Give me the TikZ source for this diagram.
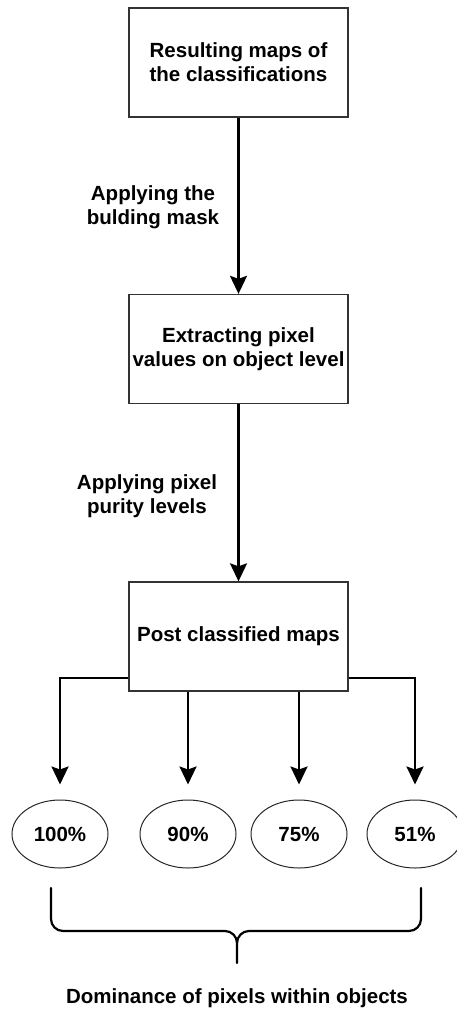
\documentclass[tikz,border=0pt]{standalone}
\usepackage{fontspec}
\setmainfont{Liberation Sans}
\usetikzlibrary{arrows.meta,shapes.geometric,calc}
\newcommand\diagfont{\fontsize{20.5}{24}\selectfont\bfseries}
\begin{document}
\begin{tikzpicture}[x=1pt,y=-1pt,
  box/.style={draw=black!80, line width=1.3pt, minimum width=219pt, minimum height=109pt, align=center, font=\diagfont, inner sep=0pt},
  oval/.style={ellipse, draw=black!85, line width=1pt, minimum width=96pt, minimum height=68pt, inner sep=0pt, font=\diagfont},
  arr/.style={-{Stealth[length=18pt,width=17pt,inset=3pt]}, line width=2.3pt},
  lbl/.style={align=center, font=\diagfont, inner sep=0pt},
  brace/.style={line width=2.2pt, line cap=round}]
\useasboundingbox (0,0) rectangle (456,1011);
\node[box] (b1) at (238.5,62.5) {Resulting maps of\\the classifications};
\node[box] (b2) at (238.5,349) {Extracting pixel\\values on object level};
\node[box] (b3) at (238.5,636.5) {Post classified maps};
\node[lbl] (l1) at (153,207) {Applying the\\bulding mask};
\node[lbl] (l2) at (147,496) {Applying pixel\\purity levels};
\node[oval] (e1) at (60,834) {100\%};
\node[oval] (e2) at (188,834) {90\%};
\node[oval] (e3) at (299,834) {75\%};
\node[oval] (e4) at (415,834) {51\%};
\node[lbl] (t) at (237,998) {Dominance of pixels within objects};
\draw[arr] (b1.south) -- (b2.north);
\draw[arr] (b2.south) -- (b3.north);
\draw[arr] ($(b3.south west)+(0,-14)$) -| ([yshift=15pt]e1.north);
\draw[arr] ($(b3.south east)+(0,-14)$) -| ([yshift=15pt]e4.north);
\draw[arr] (b3.south -| e2.north) -- ([yshift=15pt]e2.north);
\draw[arr] (b3.south -| e3.north) -- ([yshift=15pt]e3.north);
\coordinate (bl) at (51,888);
\coordinate (br) at (421,888);
\coordinate (tip) at (237,963);
\draw[brace] (bl) -- (51,919) to[out=-90,in=180] (63,931) -- (225,931) to[out=0,in=90] (237,943) -- (tip);
\draw[brace] (br) -- (421,919) to[out=-90,in=0] (409,931) -- (249,931) to[out=180,in=90] (237,943);
\end{tikzpicture}
\end{document}
